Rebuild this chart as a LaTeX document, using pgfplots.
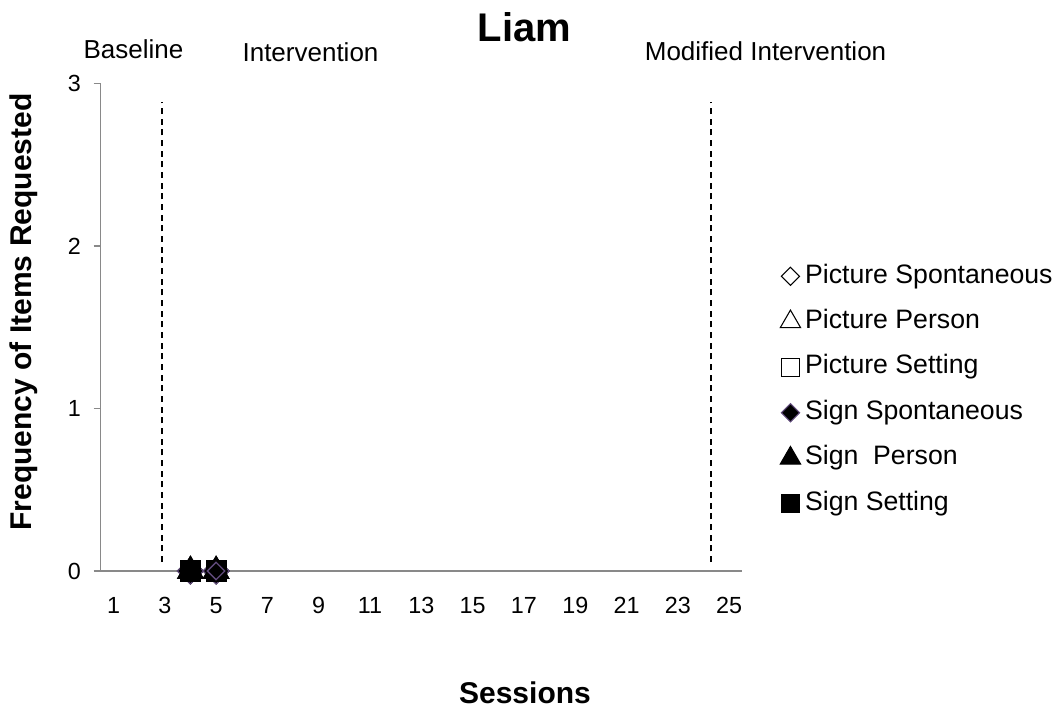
\documentclass[border=0pt]{standalone}
\usepackage{fontspec}
\setmainfont{Liberation Sans}
\usepackage{pgfplots}
\pgfplotsset{compat=1.18}
\definecolor{axgray}{RGB}{137,137,137}
\definecolor{sspurple}{RGB}{96,74,123}
\begin{document}
\begin{tikzpicture}
\begin{axis}[
  at={(75.5pt,104.25pt)}, anchor=south west,
  scale only axis, width=481pt, height=365.5pt,
  xmin=0.5, xmax=25.5, ymin=0, ymax=3,
  axis x line=bottom, axis y line=left,
  axis line style={axgray, line width=1.2pt, -},
  xtick={1,3,...,25}, ytick={0,1,2,3},
  xtick style={draw=none},
  ytick style={axgray, line width=1.2pt},
  tick align=outside, major tick length=5.25pt,
  /pgf/number format/assume math mode=true,
  tick label style={font=\fontsize{17.5}{20}\selectfont},
  xticklabel style={yshift=-11pt},
  yticklabel style={xshift=-6pt},
  clip=false,
  xlabel={Sessions},
  xlabel style={at={(0.6616,-0.2709)}, anchor=base, font=\bfseries\fontsize{22.5}{27}\selectfont},
  ylabel={Frequency of Items Requested},
  ylabel style={at={(-0.1196,0.5315)}, anchor=center, font=\bfseries\fontsize{22.5}{27}\selectfont},
  legend style={at={(1.0597,0.632)}, anchor=north west, draw=none, fill=none,
    inner sep=0pt, outer sep=0pt,
    font=\fontsize{20}{24}\selectfont,
    nodes={inner sep=0pt, text height=15pt, text depth=5pt},
    row sep=14.1pt, column sep=0pt},
  legend cell align=left,
  legend image code/.code={\path (-7pt,0pt) (10.75pt,0pt); \draw[#1] plot coordinates {(0pt,0pt)};},
]
\addplot[black, line width=1.4pt, dash pattern=on 4.5pt off 3.5pt, forget plot] coordinates {(2.878,0.055)(2.878,2.888)};
\addplot[black, line width=1.4pt, dash pattern=on 4.5pt off 3.5pt, forget plot] coordinates {(24.29,0.055)(24.29,2.888)};

\addplot[only marks, mark=square, mark size=6.9pt, mark options={rotate=45, fill=white, draw=black, line width=0.8pt},
  legend image post style={every mark/.append style={scale=0.7}}] coordinates {(4,0)(5,0)};
\addlegendentry{Picture Spontaneous}
\addplot[only marks, mark=triangle, mark size=11pt, mark options={fill=white, draw=black, line width=0.8pt},
  legend image post style={every mark/.append style={scale=0.8}}] coordinates {(4,0)(5,0)};
\addlegendentry{Picture Person}
\addplot[only marks, mark=square, mark size=7.5pt, mark options={fill=white, draw=black, line width=0.8pt},
  legend image post style={every mark/.append style={scale=0.9}}] coordinates {(4,0)(5,0)};
\addlegendentry{Picture Setting}
\addplot[only marks, mark=square*, mark size=6.9pt, mark options={rotate=45, fill=black, draw=sspurple, line width=0.8pt},
  legend image post style={every mark/.append style={scale=0.7}}] coordinates {(4,0)(5,0)};
\addlegendentry{Sign Spontaneous}
\addplot[only marks, mark=triangle*, mark size=11pt, mark options={fill=black, draw=black, line width=0.8pt},
  legend image post style={every mark/.append style={scale=0.8}}] coordinates {(4,0)(5,0)};
\addlegendentry{Sign\ \ Person}
\addplot[only marks, mark=square*, mark size=7.5pt, mark options={fill=black, draw=black, line width=0.8pt},
  legend image post style={every mark/.append style={scale=0.9}}] coordinates {(4,0)(5,0)};
\addlegendentry{Sign Setting}

\addplot[only marks, forget plot, mark=square, mark size=7pt, mark options={fill=white, draw=black, line width=0.8pt}] coordinates {(5,0)};
\addplot[only marks, forget plot, mark=square, mark size=4.6pt, mark options={rotate=45, fill=none, draw=sspurple, line width=1pt}] coordinates {(5,0)};

\node[anchor=base, font=\bfseries\fontsize{30}{36}\selectfont] at (axis description cs:0.6608,1.0856) {Liam};
\node[anchor=base, font=\fontsize{19.5}{23}\selectfont] at (axis description cs:0.0511,1.0507) {Baseline};
\node[anchor=base, font=\fontsize{19.5}{23}\selectfont] at (axis description cs:0.3272,1.0445) {Intervention};
\node[anchor=base, font=\fontsize{19.5}{23}\selectfont] at (axis description cs:1.0367,1.0466) {Modified Intervention};
\end{axis}
\pgfresetboundingbox
\path[use as bounding box] (0,0) rectangle (792pt,532.5pt);
\end{tikzpicture}
\end{document}
